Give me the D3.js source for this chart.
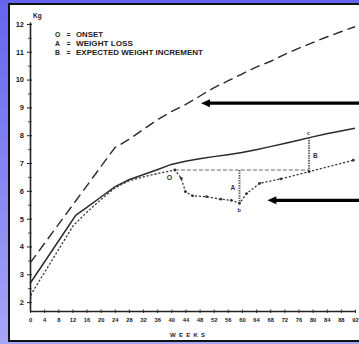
<!DOCTYPE html>
<html><head><meta charset="utf-8">
<script src="https://cdn.jsdelivr.net/npm/d3@7"></script>
<style>html,body{margin:0;padding:0;background:#fff;} svg{display:block;}</style>
</head><body>
<svg id="c" width="359" height="344"></svg>
<script>
// ---------- data ----------
const weekTicks = [0,4,8,12,16,20,24,28,32,36,40,44,48,52,56,60,64,68,72,76,80,84,88,92];
const kgTicks = [2,3,4,5,6,7,8,9,10,11,12];
const kgMinorTicks = [2.5,3.5,4.5,5.5,6.5,7.5,8.5,9.5,10.5,11.5];

// long-dashed curve (upper)
const expectedWeeks = [0,24,28,32,36,40,44,48,52,56,60,64,68,72,76,80,84,88,92];
const expectedKg    = [3.4,7.55,7.85,8.2,8.55,8.85,9.1,9.4,9.7,9.95,10.2,10.45,10.65,10.9,11.12,11.33,11.53,11.72,11.9];

// solid curve
const normalWeeks = [0,13,16,20,24,28,32,36,40,44,48,52,56,60,64,68,72,76,80,84,88,92];
const normalKg    = [2.67,5.13,5.4,5.77,6.14,6.4,6.58,6.76,6.95,7.06,7.15,7.23,7.3,7.38,7.48,7.59,7.7,7.82,7.94,8.05,8.15,8.25];

// dotted curve (patient)
const patientWeeks = [0,0.4,12.3,16,20,24,28,32,36,41,42.8,44,46,50,54,57,59.3,61.3,65,71,79,91.5];
const patientKg    = [1.95,2.3,4.76,5.22,5.68,6.1,6.36,6.5,6.62,6.75,6.45,5.97,5.82,5.79,5.7,5.66,5.55,5.9,6.27,6.43,6.69,7.1];
const patientMarkerFrom = 41;

const legendKeys  = ["O","A","B"];
const legendTexts = ["ONSET","WEIGHT LOSS","EXPECTED WEIGHT INCREMENT"];

const onsetWeek = 41, onsetKg = 6.75;
const lossWeek = 59.3, lossKg = 5.55;
const incWeek = 79, incTopKg = 7.92, incBottomKg = 6.69;

const arrowTipWeeks = [48.4, 67.2];
const arrowKg       = [9.15, 5.66];

// ---------- drawing ----------
const svg = d3.select("#c");
const W = 359, H = 344;

const defs = svg.append("defs");
const grad = defs.append("linearGradient").attr("id","bg").attr("x1",0).attr("y1",0).attr("x2",0).attr("y2",1);
grad.append("stop").attr("offset","0%").attr("stop-color","#6464ee");
grad.append("stop").attr("offset","100%").attr("stop-color","#a6a6f7");

svg.append("rect").attr("width",W).attr("height",H).attr("fill","url(#bg)");
svg.append("rect").attr("x",9).attr("y",4).attr("width",360).attr("height",337)
   .attr("fill","#fff").attr("stroke","#111").attr("stroke-width",2);

const x = d3.scaleLinear().domain([0,92]).range([30,355]);
const y = d3.scaleLinear().domain([1.68,12.07]).range([311,22]);

const ink = "#222";
const fontFam = "'Liberation Sans', Arial, sans-serif";

// y axis
const gy = svg.append("g").attr("transform",`translate(${x(0)},0)`)
  .call(d3.axisLeft(y).tickValues(kgTicks).tickSize(3).tickSizeOuter(0).tickPadding(3));
gy.select(".domain").attr("stroke",ink).attr("stroke-width",1.6);
gy.selectAll(".tick line").attr("stroke",ink).attr("stroke-width",1).attr("x1",2);
gy.selectAll(".tick text").attr("font-family",fontFam).attr("font-weight","bold")
  .attr("font-size",7.5).attr("fill",ink);

const gy2 = svg.append("g").attr("transform",`translate(${x(0)},0)`)
  .call(d3.axisLeft(y).tickValues(kgMinorTicks).tickSize(2).tickFormat(""));
gy2.select(".domain").remove();
gy2.selectAll(".tick line").attr("stroke",ink).attr("stroke-width",0.8).attr("x1",1.5);

// x axis
const gx = svg.append("g").attr("transform",`translate(0,${y(1.68)})`)
  .call(d3.axisBottom(x).tickValues(weekTicks).tickSize(2).tickSizeOuter(0).tickPadding(5));
gx.select(".domain").attr("stroke",ink).attr("stroke-width",1.6);
gx.selectAll(".tick line").attr("stroke",ink).attr("stroke-width",0.9).attr("y1",-1.5);
gx.selectAll(".tick text").attr("font-family",fontFam).attr("font-weight","bold")
  .attr("font-size",5.8).attr("fill",ink);

svg.append("text").attr("x",x(0)+3).attr("y",y(12.07)-4).text("Kg")
  .attr("font-family",fontFam).attr("font-weight","bold").attr("font-size",6.5).attr("fill",ink);

svg.append("text").attr("x",170).attr("y",y(1.68)+26).text("WEEKS")
  .attr("font-family",fontFam).attr("font-weight","bold").attr("font-size",6)
  .attr("textLength",35).attr("lengthAdjust","spacing").attr("fill",ink);

// legend
const lg = svg.append("g");
legendKeys.forEach((k,i)=>{
  const by = 37 + i*9.2;
  lg.append("text").attr("x",55).attr("y",by).text(k)
    .attr("font-family",fontFam).attr("font-weight","bold").attr("font-size",6.8).attr("fill",ink);
  lg.append("text").attr("x",66.5).attr("y",by).text("=")
    .attr("font-family",fontFam).attr("font-weight","bold").attr("font-size",6.8).attr("fill",ink);
  const lens = [27,57,127];
  lg.append("text").attr("x",76).attr("y",by).text(legendTexts[i])
    .attr("font-family",fontFam).attr("font-weight","bold").attr("font-size",6.8)
    .attr("textLength",lens[i]).attr("lengthAdjust","spacingAndGlyphs").attr("fill",ink);
});

const line = d3.line().x(d=>x(d[0])).y(d=>y(d[1]));

// expected (long dash)
svg.append("path").datum(d3.zip(expectedWeeks,expectedKg)).attr("d",line)
  .attr("fill","none").attr("stroke","#2a2a2a").attr("stroke-width",1.4).attr("stroke-dasharray","10,5");

// normal (solid)
svg.append("path").datum(d3.zip(normalWeeks,normalKg)).attr("d",line)
  .attr("fill","none").attr("stroke","#2a2a2a").attr("stroke-width",1.5);

// onset horizontal reference
svg.append("line").attr("x1",x(onsetWeek)).attr("x2",x(incWeek))
  .attr("y1",y(onsetKg)).attr("y2",y(onsetKg))
  .attr("stroke","#999").attr("stroke-width",1.3).attr("stroke-dasharray","4,2");

// A and B vertical markers
[[lossWeek,onsetKg,lossKg],[incWeek,incTopKg,incBottomKg]].forEach(v=>{
  svg.append("line").attr("x1",x(v[0])).attr("x2",x(v[0])).attr("y1",y(v[1])).attr("y2",y(v[2]))
    .attr("stroke","#666").attr("stroke-width",2).attr("stroke-dasharray","1.5,1");
});

// patient (dotted)
const pdata = d3.zip(patientWeeks,patientKg);
svg.append("path").datum(pdata).attr("d",line)
  .attr("fill","none").attr("stroke","#3a3a3a").attr("stroke-width",1.3).attr("stroke-dasharray","2.2,1.8");
svg.selectAll("circle.pt").data(pdata.filter(d=>d[0]>=patientMarkerFrom)).join("circle")
  .attr("class","pt").attr("cx",d=>x(d[0])).attr("cy",d=>y(d[1])).attr("r",1.4).attr("fill","#333");

// annotation letters
const ann = [["O",onsetWeek,onsetKg,-8,10,7],["A",lossWeek,(onsetKg+lossKg)/2,-9,3,6.5],
             ["B",incWeek,(incTopKg+incBottomKg)/2,4,3,6.5],["b",lossWeek,lossKg,-2,9,5.5],
             ["c",incWeek,incTopKg,-2,-2,5]];
ann.forEach(a=>{
  svg.append("text").attr("x",x(a[1])+a[3]).attr("y",y(a[2])+a[4]).text(a[0])
    .attr("font-family",fontFam).attr("font-weight","bold").attr("font-size",a[5]).attr("fill","#333");
});

// arrows
arrowTipWeeks.forEach((w,i)=>{
  const tx = x(w), ty = y(arrowKg[i]);
  svg.append("line").attr("x1",tx+7).attr("x2",W+2).attr("y1",ty).attr("y2",ty)
    .attr("stroke","#000").attr("stroke-width",3.2);
  svg.append("path").attr("d",`M${tx},${ty} L${tx+9},${ty-4} L${tx+9},${ty+4} Z`).attr("fill","#000");
});
</script>
</body></html>
